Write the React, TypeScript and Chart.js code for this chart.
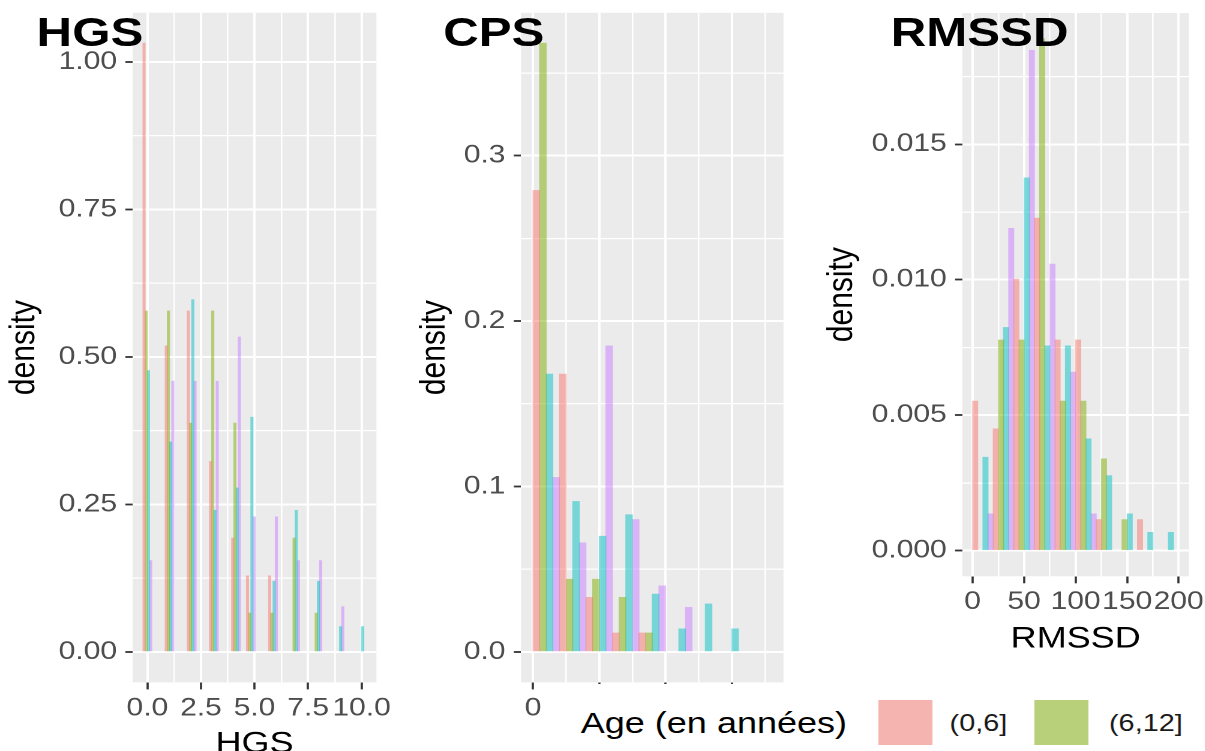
import React, { useEffect, useRef } from "react";
import { Chart, registerables } from "chart.js";

Chart.register(...registerables);

// The reference picture is horizontally stretched: everything is drawn in a
// logical space and then stretched by this factor.
const STRETCH = 1.2;
const PAGE_W = 1205;
const PAGE_H = 751;
const LOGICAL_W = PAGE_W / STRETCH;
const FONT = '"Liberation Sans", Arial, Helvetica, sans-serif';

// ---- groups / legend ----
const GROUP_NAMES = ["(0,6]", "(6,12]", "Groupe 3", "Groupe 4"];
const GROUP_COLORS = [
  "rgba(248,118,109,0.5)",
  "rgba(124,174,0,0.5)",
  "rgba(0,191,196,0.5)",
  "rgba(199,124,255,0.5)",
];
const LEGEND_TITLE = "Age (en années)";
const LEGEND_LABELS = ["(0,6]", "(6,12]"];
const PANEL_TITLES = ["HGS", "CPS", "RMSSD"];
const Y_TITLE = "density";

// ---- HGS (30 bins over 0..10, bin centres) ----
const HGS_BINS = [0, 1.034, 2.069, 3.103, 4.138, 4.828, 5.862, 6.897, 7.931, 8.966, 10];
const HGS_G1 = [1.032, 0.519, 0.578, 0.323, 0.193, 0.129, 0.129, 0, 0, 0, 0];
const HGS_G2 = [0.578, 0.578, 0.388, 0.578, 0.388, 0.066, 0.066, 0.193, 0.066, 0, 0];
const HGS_G3 = [0.477, 0.356, 0.597, 0.24, 0.278, 0.398, 0.12, 0.24, 0.12, 0.043, 0.043];
const HGS_G4 = [0.155, 0.459, 0.459, 0.459, 0.534, 0.229, 0.229, 0.155, 0.155, 0.077, 0];
const HGS_X_TICKS = [0, 2.5, 5, 7.5, 10];
const HGS_X_LABELS = ["0.0", "2.5", "5.0", "7.5", "10.0"];
const HGS_Y_TICKS = [0, 0.25, 0.5, 0.75, 1];
const HGS_Y_LABELS = ["0.00", "0.25", "0.50", "0.75", "1.00"];
const HGS_X_RANGE = [-0.6897, 10.6897];
const HGS_Y_RANGE = [-0.0516, 1.0836];

// ---- CPS (bins of width 2, centres) ----
const CPS_BINS = [1, 3, 5, 7, 9, 11, 13, 15, 17];
const CPS_G1 = [0.279, 0.168, 0.033, 0.0115, 0.0115, 0, 0, 0, 0];
const CPS_G2 = [0.368, 0.044, 0.044, 0.033, 0.0115, 0, 0, 0, 0];
const CPS_G3 = [0.168, 0.091, 0.07, 0.083, 0.035, 0.014, 0.029, 0.014, 0];
const CPS_G4 = [0.1055, 0.066, 0.185, 0.08, 0.04, 0.027, 0, 0, 0];
const CPS_X_TICKS = [0, 5, 10, 15];
const CPS_X_LABELS = ["0", "", "", ""]; // others hidden under the legend
const CPS_Y_TICKS = [0, 0.1, 0.2, 0.3];
const CPS_Y_LABELS = ["0.0", "0.1", "0.2", "0.3"];
const CPS_X_RANGE = [-0.9, 18.9];
const CPS_Y_RANGE = [-0.0184, 0.3864];

// ---- RMSSD (bins of width 20, centres) ----
const RMSSD_BINS = [10, 30, 50, 70, 90, 110, 130, 150, 170, 190];
const RMSSD_G1 = [0.00552, 0.0045, 0.01002, 0.01227, 0.00778, 0.00778, 0.00115, 0, 0.00115, 0];
const RMSSD_G2 = [0, 0.00778, 0.00778, 0.0189, 0.00552, 0.00552, 0.00339, 0.00115, 0, 0];
const RMSSD_G3 = [0.00345, 0.00824, 0.01376, 0.00756, 0.00756, 0.00413, 0.00277, 0.00136, 0.00068, 0.00068];
const RMSSD_G4 = [0.00136, 0.0119, 0.01847, 0.01058, 0.00659, 0.00136, 0, 0, 0, 0];
const RMSSD_X_TICKS = [0, 50, 100, 150, 200];
const RMSSD_X_LABELS = ["0", "50", "100", "150", "200"];
const RMSSD_Y_TICKS = [0, 0.005, 0.01, 0.015];
const RMSSD_Y_LABELS = ["0.000", "0.005", "0.010", "0.015"];
const RMSSD_X_RANGE = [-10, 210];
const RMSSD_Y_RANGE = [-0.000945, 0.019845];

type Spec = {
  id: string;
  canvasLeft: number;
  canvasWidth: number;
  canvasHeight: number;
  area: { left: number; right: number; top: number; bottom: number };
  bins: number[];
  series: number[][];
  xRange: number[];
  xTicks: number[];
  xLabels: string[];
  yRange: number[];
  yTicks: number[];
  yLabels: string[];
  barThickness?: number;
  xTitle?: string;
  xTitlePad: number;
  yTitlePad: number;
};

const PANELS: Spec[] = [
  {
    id: "hgs",
    canvasLeft: 0,
    canvasWidth: 330,
    canvasHeight: 780,
    area: { left: 110.5, right: 313.67, top: 12.7, bottom: 682.4 },
    bins: HGS_BINS,
    series: [HGS_G1, HGS_G2, HGS_G3, HGS_G4],
    xRange: HGS_X_RANGE,
    xTicks: HGS_X_TICKS,
    xLabels: HGS_X_LABELS,
    yRange: HGS_Y_RANGE,
    yTicks: HGS_Y_TICKS,
    yLabels: HGS_Y_LABELS,
    barThickness: 1.85,
    xTitle: "HGS",
    xTitlePad: 18,
    yTitlePad: 2.3,
  },
  {
    id: "cps",
    canvasLeft: 340,
    canvasWidth: 330,
    canvasHeight: 780,
    area: { left: 434.2, right: 652.9, top: 12.8, bottom: 682.4 },
    bins: CPS_BINS,
    series: [CPS_G1, CPS_G2, CPS_G3, CPS_G4],
    xRange: CPS_X_RANGE,
    xTicks: CPS_X_TICKS,
    xLabels: CPS_X_LABELS,
    yRange: CPS_Y_RANGE,
    yTicks: CPS_Y_TICKS,
    yLabels: CPS_Y_LABELS,
    xTitlePad: 18,
    yTitlePad: 4,
  },
  {
    id: "rmssd",
    canvasLeft: 680,
    canvasWidth: 324,
    canvasHeight: 751,
    area: { left: 801.9, right: 990.8, top: 13, bottom: 576.3 },
    bins: RMSSD_BINS,
    series: [RMSSD_G1, RMSSD_G2, RMSSD_G3, RMSSD_G4],
    xRange: RMSSD_X_RANGE,
    xTicks: RMSSD_X_TICKS,
    xLabels: RMSSD_X_LABELS,
    yRange: RMSSD_Y_RANGE,
    yTicks: RMSSD_Y_TICKS,
    yLabels: RMSSD_Y_LABELS,
    xTitle: "RMSSD",
    xTitlePad: 94,
    yTitlePad: 3.6,
  },
];

const near = (a: number, b: number) => Math.abs(a - b) < 1e-9;

// major ticks plus the minor (mid-way) grid positions inside the range
function gridValues(majors: number[], min: number, max: number) {
  const step = (majors[1] - majors[0]) / 2;
  let v = majors[0];
  while (v - step >= min) v -= step;
  const out: number[] = [];
  for (; v <= max + 1e-12; v += step) out.push(+v.toFixed(10));
  return out;
}

const panelBackground = {
  id: "panelBackground",
  beforeDraw(chart: any) {
    const { ctx, chartArea: a } = chart;
    ctx.save();
    ctx.fillStyle = "#EBEBEB";
    ctx.fillRect(a.left, a.top, a.right - a.left, a.bottom - a.top);
    ctx.restore();
  },
};

function makeConfig(s: Spec): any {
  const xVals = gridValues(s.xTicks, s.xRange[0], s.xRange[1]);
  const yVals = gridValues(s.yTicks, s.yRange[0], s.yRange[1]);
  const isMajorX = (v: number) => s.xTicks.some((m) => near(m, v));
  const isMajorY = (v: number) => s.yTicks.some((m) => near(m, v));
  const labelOf = (ticks: number[], labels: string[], v: number) => {
    const i = ticks.findIndex((m) => near(m, v));
    return i >= 0 ? labels[i] : "";
  };
  const yAxisWidth = s.area.left - s.canvasLeft;
  const rightPad = s.canvasWidth - (s.area.right - s.canvasLeft);
  const xAxisHeight = s.canvasHeight - s.area.bottom;
  const tickFont = { family: FONT, size: 25 };
  const titleFont = { family: FONT, size: 30, lineHeight: 1.2 };

  return {
    type: "bar",
    data: {
      datasets: s.series.map((vals, g) => ({
        label: GROUP_NAMES[g],
        // empty bins (density 0) draw nothing
        data: s.bins.map((b, i) => ({ x: b, y: vals[i] === 0 ? null : vals[i] })),
        backgroundColor: GROUP_COLORS[g],
        borderWidth: 0,
        ...(s.barThickness
          ? { barThickness: s.barThickness }
          : { categoryPercentage: 1, barPercentage: 1 }),
      })),
    },
    options: {
      responsive: false,
      maintainAspectRatio: false,
      animation: false,
      devicePixelRatio: 2,
      events: [],
      layout: { padding: { left: 0, top: s.area.top, right: rightPad, bottom: 0 } },
      plugins: {
        legend: { display: false },
        tooltip: { enabled: false },
        title: { display: false },
      },
      scales: {
        x: {
          type: "linear",
          min: s.xRange[0],
          max: s.xRange[1],
          offset: false,
          afterBuildTicks: (sc: any) => {
            sc.ticks = xVals.map((v) => ({ value: v }));
          },
          afterFit: (sc: any) => {
            sc.height = xAxisHeight;
            sc.paddingLeft = 0;
            sc.paddingRight = 0;
          },
          ticks: {
            autoSkip: false,
            maxRotation: 0,
            minRotation: 0,
            padding: 4,
            color: "#4D4D4D",
            font: tickFont,
            callback: (v: number) => labelOf(s.xTicks, s.xLabels, v),
          },
          grid: {
            offset: false,
            color: "#FFFFFF",
            lineWidth: (c: any) => (c.tick && isMajorX(c.tick.value) ? 2 : 1.3),
            drawTicks: true,
            tickLength: 7,
            tickWidth: 1.8,
            tickColor: (c: any) =>
              c.tick && isMajorX(c.tick.value) ? "#333333" : "rgba(0,0,0,0)",
          },
          border: { display: false },
          title: {
            display: !!s.xTitle,
            text: s.xTitle || "",
            color: "#000000",
            font: titleFont,
            padding: { top: 0, bottom: s.xTitlePad },
          },
        },
        y: {
          type: "linear",
          min: s.yRange[0],
          max: s.yRange[1],
          afterBuildTicks: (sc: any) => {
            sc.ticks = yVals.map((v) => ({ value: v }));
          },
          afterFit: (sc: any) => {
            sc.width = yAxisWidth;
            sc.paddingTop = 0;
            sc.paddingBottom = 0;
          },
          ticks: {
            autoSkip: false,
            padding: 7,
            color: "#4D4D4D",
            font: tickFont,
            callback: (v: number) => labelOf(s.yTicks, s.yLabels, v),
          },
          grid: {
            color: "#FFFFFF",
            lineWidth: (c: any) => (c.tick && isMajorY(c.tick.value) ? 2 : 1.3),
            drawTicks: true,
            tickLength: 6,
            tickWidth: 1.8,
            tickColor: (c: any) =>
              c.tick && isMajorY(c.tick.value) ? "#333333" : "rgba(0,0,0,0)",
          },
          border: { display: false },
          title: {
            display: true,
            text: Y_TITLE,
            color: "#000000",
            font: titleFont,
            padding: { top: s.yTitlePad, bottom: 0 },
          },
        },
      },
    },
    plugins: [panelBackground],
  };
}

function Panel({ spec }: { spec: Spec }) {
  const ref = useRef<HTMLCanvasElement>(null);
  useEffect(() => {
    const chart = new Chart(ref.current as HTMLCanvasElement, makeConfig(spec));
    return () => chart.destroy();
  }, [spec]);
  return (
    <canvas
      ref={ref}
      width={spec.canvasWidth}
      height={spec.canvasHeight}
      style={{
        position: "absolute",
        left: spec.canvasLeft,
        top: 0,
        width: spec.canvasWidth,
        height: spec.canvasHeight,
      }}
    />
  );
}

const TITLE_LEFTS = [30.5, 369.3, 742.3];

export default function App() {
  const textBase: React.CSSProperties = {
    position: "absolute",
    whiteSpace: "nowrap",
    fontFamily: FONT,
    margin: 0,
  };
  return (
    <div
      style={{
        position: "absolute",
        left: 0,
        top: 0,
        width: LOGICAL_W,
        height: PAGE_H,
        overflow: "hidden",
        background: "#FFFFFF",
        transform: `scaleX(${STRETCH})`,
        transformOrigin: "0 0",
        fontFamily: FONT,
      }}
    >
      {PANELS.map((p) => (
        <Panel key={p.id} spec={p} />
      ))}

      {PANEL_TITLES.map((t, i) => (
        <div
          key={t}
          style={{
            ...textBase,
            left: TITLE_LEFTS[i],
            top: 12.3,
            fontSize: 41,
            lineHeight: "41px",
            fontWeight: 700,
            color: "#000000",
          }}
        >
          {t}
        </div>
      ))}

      {/* legend */}
      <div
        style={{
          position: "absolute",
          left: 470.8,
          top: 684,
          width: LOGICAL_W - 470.8,
          height: PAGE_H - 684,
          background: "#FFFFFF",
        }}
      />
      <div
        style={{
          ...textBase,
          left: 484,
          top: 707.6,
          fontSize: 30,
          lineHeight: "30px",
          color: "#000000",
        }}
      >
        {LEGEND_TITLE}
      </div>
      {LEGEND_LABELS.map((lab, i) => {
        const keyLeft = [732.1, 862.3][i];
        const textLeft = [791.3, 924.2][i];
        return (
          <React.Fragment key={lab}>
            <div
              style={{
                position: "absolute",
                left: keyLeft,
                top: 700,
                width: 45,
                height: 45,
                background: "#F2F2F2",
              }}
            >
              <div style={{ width: "100%", height: "100%", background: GROUP_COLORS[i] }} />
            </div>
            <div
              style={{
                ...textBase,
                left: textLeft,
                top: 710.8,
                fontSize: 24,
                lineHeight: "24px",
                color: "#1A1A1A",
              }}
            >
              {lab}
            </div>
          </React.Fragment>
        );
      })}
    </div>
  );
}
